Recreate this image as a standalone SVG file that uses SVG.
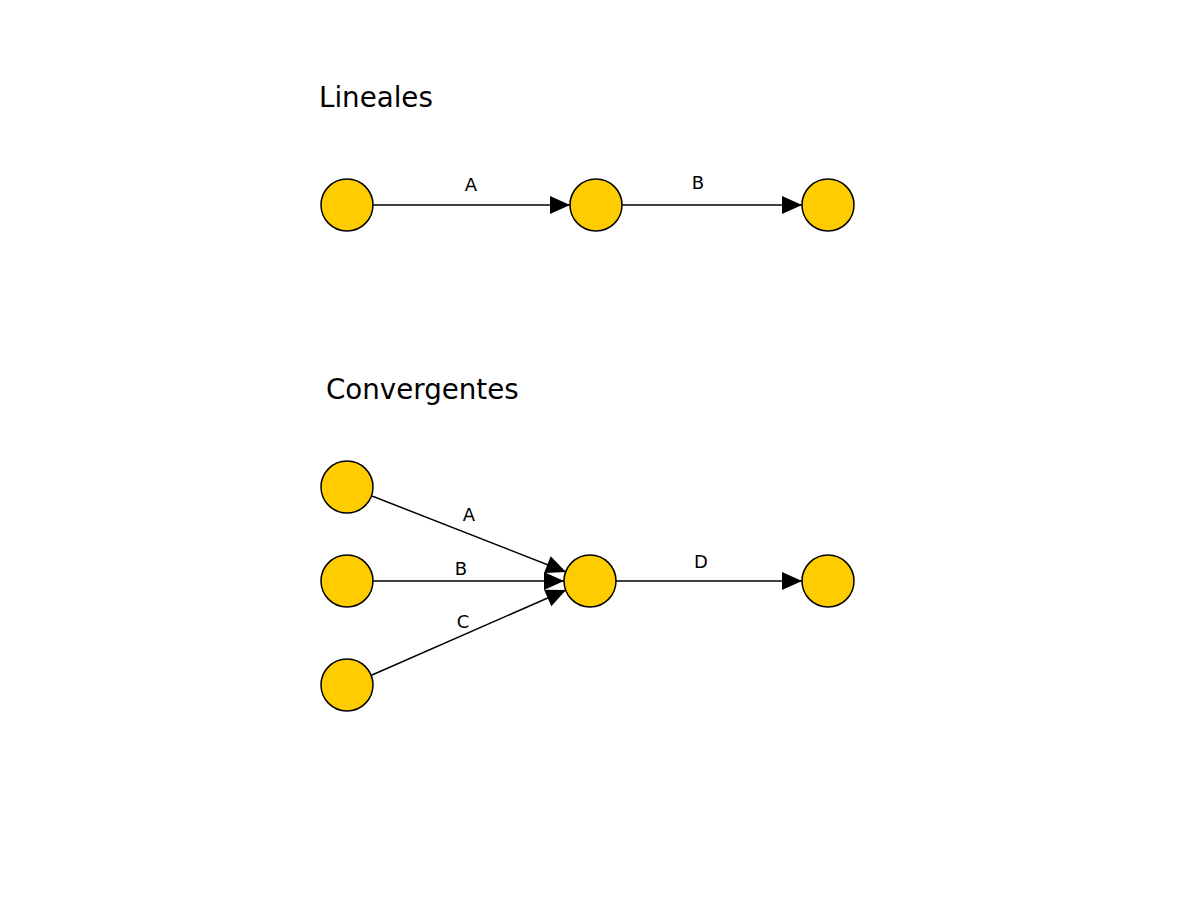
<svg xmlns="http://www.w3.org/2000/svg" width="1196" height="900" viewBox="0 0 1196 900">
<defs>
<marker id="arr" markerUnits="userSpaceOnUse" markerWidth="20" markerHeight="18" refX="20" refY="9" orient="auto" overflow="visible">
<path d="M0,0 L20,9 L0,18 Z" fill="#000"/>
</marker>
<style>
.n{fill:#FFCC00;stroke:#000;stroke-width:1.5}
.e{stroke:#000;stroke-width:1.5;fill:none;marker-end:url(#arr)}
.t{font-family:"DejaVu Sans",sans-serif;fill:#000}
.title{font-size:27.7px}
.lbl{font-size:18px;text-anchor:middle}
</style>
</defs>
<rect width="1196" height="900" fill="#fff"/>
<text class="t title" x="319" y="107">Lineales</text>
<text class="t title" x="326" y="399">Convergentes</text>
<g id="connectors">
<line class="e" x1="373" y1="205" x2="570" y2="205"/>
<line class="e" x1="622" y1="205" x2="802" y2="205"/>
<line class="e" x1="372" y1="496" x2="566" y2="572"/>
<line class="e" x1="373" y1="581" x2="564" y2="581"/>
<line class="e" x1="372" y1="675" x2="566" y2="590"/>
<line class="e" x1="616" y1="581" x2="802" y2="581"/>
<text class="t lbl" x="471" y="191">A</text>
<text class="t lbl" x="698" y="189">B</text>
<text class="t lbl" x="469" y="521">A</text>
<text class="t lbl" x="461" y="575">B</text>
<text class="t lbl" x="463" y="628">C</text>
<text class="t lbl" x="701" y="568">D</text>
</g>
<g id="n1"><circle class="n" cx="347" cy="205" r="26"/></g>
<g id="n2"><circle class="n" cx="596" cy="205" r="26"/></g>
<g id="n3"><circle class="n" cx="828" cy="205" r="26"/></g>
<g id="n4"><circle class="n" cx="347" cy="487" r="26"/></g>
<g id="n5"><circle class="n" cx="347" cy="581" r="26"/></g>
<g id="n6"><circle class="n" cx="347" cy="685" r="26"/></g>
<g id="n7"><circle class="n" cx="590" cy="581" r="26"/></g>
<g id="n8"><circle class="n" cx="828" cy="581" r="26"/></g>
</svg>
